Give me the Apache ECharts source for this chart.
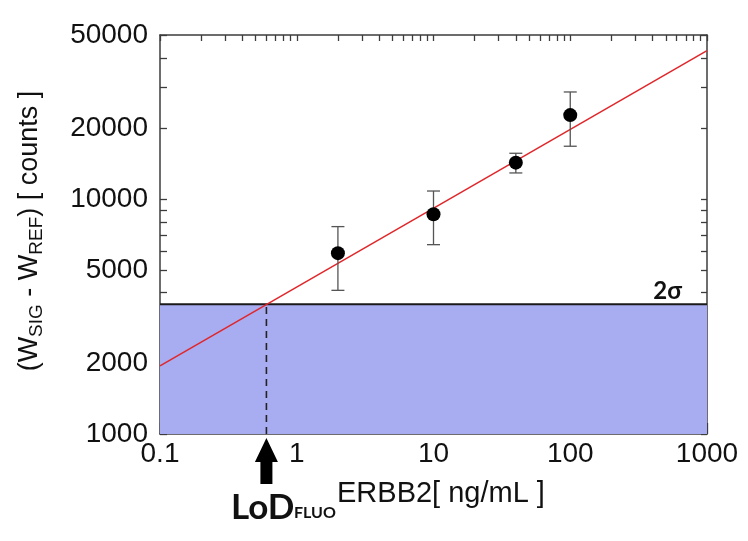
<!DOCTYPE html>
<html><head><meta charset="utf-8">
<script src="https://cdn.jsdelivr.net/npm/echarts@6/dist/echarts.min.js"></script>
<style>html,body{margin:0;padding:0;background:#fff}#c{width:748px;height:541px}</style>
</head><body><div id="c"></div>
<script>
// ---- data ----
const concentrations = [2, 10, 40, 100];           // ERBB2 ng/mL
const signalMeans   = [5890, 8630, 14300, 22800];   // counts
const errLow        = [4090, 6400, 12930, 16800];
const errHigh       = [7640, 10830, 15680, 28600];
const fitX = [0.1, 1000];
const fitY = [1950, 42900];
const sigmaThreshold = 3570;  // 2 sigma level
const lodValue = 0.6;         // LoD (ng/mL)
const xRange = [0.1, 1000];
const yRange = [1000, 50000];
const xLabelValues = [0.1, 1, 10, 100, 1000];
const xMinorTickValues = [0.2,0.3,0.4,0.5,0.6,0.7,0.8,0.9,2,3,4,5,6,7,8,9,20,30,40,50,60,70,80,90,200,300,400,500,600,700,800,900];
const yLabelValues = [1000, 2000, 5000, 10000, 20000, 50000];
const yTickValues = [1000,2000,3000,4000,5000,6000,7000,8000,9000,10000,20000,30000,40000,50000];

const axisColor = '#3c3c3c';
const textColor = '#111';
const FONT = 'Liberation Sans, Arial, sans-serif';

const chart = echarts.init(document.getElementById('c'), null, {renderer: 'canvas'});

function fmt(v){ return String(+(+v).toPrecision(6)); }

const baseX = {type:'log', logBase:10, min:xRange[0], max:xRange[1], splitLine:{show:false}};
const baseY = {type:'log', logBase:10, min:yRange[0], max:yRange[1], splitLine:{show:false}};

const option = {
  animation:false,
  backgroundColor:'#fff',
  grid:{left:160, top:35, width:547, height:399, containLabel:false},
  xAxis:[
    Object.assign({}, baseX, {position:'bottom',
      axisLine:{show:true, lineStyle:{color:axisColor, width:1.5}},
      axisTick:{show:true, inside:true, length:11, customValues:xLabelValues, lineStyle:{color:axisColor, width:1.3}},
      axisLabel:{show:true, customValues:xLabelValues, formatter:fmt, fontSize:28, color:textColor, fontFamily:FONT, margin:6, hideOverlap:false}}),
    Object.assign({}, baseX, {position:'bottom',
      axisLine:{show:false},
      axisTick:{show:true, inside:true, length:7, customValues:xMinorTickValues, lineStyle:{color:axisColor, width:1.3}},
      axisLabel:{show:false}}),
    Object.assign({}, baseX, {position:'top',
      axisLine:{show:true, lineStyle:{color:axisColor, width:1.5}},
      axisTick:{show:true, inside:true, length:6, customValues:xLabelValues.concat(xMinorTickValues), lineStyle:{color:axisColor, width:1.3}},
      axisLabel:{show:false}})
  ],
  yAxis:[
    Object.assign({}, baseY, {position:'left',
      axisLine:{show:true, lineStyle:{color:axisColor, width:1.5}},
      axisTick:{show:true, inside:true, length:7, customValues:yTickValues, lineStyle:{color:axisColor, width:1.3}},
      axisLabel:{show:true, customValues:yLabelValues, formatter:fmt, fontSize:28, color:textColor, fontFamily:FONT, margin:12, hideOverlap:false}}),
    Object.assign({}, baseY, {position:'right',
      axisLine:{show:true, lineStyle:{color:axisColor, width:1.5}},
      axisTick:{show:true, inside:true, length:6, customValues:yTickValues, lineStyle:{color:axisColor, width:1.3}},
      axisLabel:{show:false}})
  ],
  series:[
    { // shaded region below 2 sigma
      type:'line', xAxisIndex:0, yAxisIndex:0, z:1, silent:true, symbol:'none',
      data:[[xRange[0], sigmaThreshold],[xRange[1], sigmaThreshold]],
      lineStyle:{color:'#1a1a1a', width:2},
      areaStyle:{color:'#a8acf0', opacity:1, origin:'start'}
    },
    { // LoD dashed drop line
      type:'line', xAxisIndex:0, yAxisIndex:0, z:3, silent:true, symbol:'none',
      data:[[lodValue, yRange[0]],[lodValue, sigmaThreshold]],
      lineStyle:{color:'#222', width:1.6, type:[7,5]}
    },
    { // fit line
      type:'line', xAxisIndex:0, yAxisIndex:0, z:4, silent:true, symbol:'none',
      data:fitX.map((x,i)=>[x, fitY[i]]),
      lineStyle:{color:'#e0262a', width:1.5}
    },
    { // error bars
      type:'custom', xAxisIndex:0, yAxisIndex:0, z:5, silent:true,
      data:concentrations.map((x,i)=>[x, errLow[i], errHigh[i]]),
      encode:{x:0, y:[1,2]},
      renderItem:function(params, api){
        const x = api.value(0);
        const pLo = api.coord([x, api.value(1)]);
        const pHi = api.coord([x, api.value(2)]);
        const hw = 6.5;
        const st = {stroke:'#555', lineWidth:1.3};
        return {type:'group', children:[
          {type:'line', shape:{x1:pLo[0], y1:pLo[1], x2:pHi[0], y2:pHi[1]}, style:st},
          {type:'line', shape:{x1:pLo[0]-hw, y1:pLo[1], x2:pLo[0]+hw, y2:pLo[1]}, style:st},
          {type:'line', shape:{x1:pHi[0]-hw, y1:pHi[1], x2:pHi[0]+hw, y2:pHi[1]}, style:st}
        ]};
      }
    },
    { // data points
      type:'scatter', xAxisIndex:0, yAxisIndex:0, z:6, silent:true,
      symbol:'circle', symbolSize:14,
      itemStyle:{color:'#000', opacity:1},
      data:concentrations.map((x,i)=>[x, signalMeans[i]])
    }
  ]
};
chart.setOption(option);

// annotations positioned from the chart's scales
const lodPx = chart.convertToPixel({xAxisIndex:0}, lodValue);
const gridBottom = chart.convertToPixel({yAxisIndex:0}, yRange[0]);
const gridRight = chart.convertToPixel({xAxisIndex:0}, xRange[1]);
const sigPx = chart.convertToPixel({yAxisIndex:0}, sigmaThreshold);

chart.setOption({
  graphic:[
    { // arrow pointing to LoD
      type:'polygon', silent:true,
      shape:{points:[
        [lodPx, gridBottom+4],
        [lodPx+11.5, gridBottom+28],
        [lodPx+6, gridBottom+28],
        [lodPx+6, gridBottom+50],
        [lodPx-6, gridBottom+50],
        [lodPx-6, gridBottom+28],
        [lodPx-11.5, gridBottom+28]
      ]},
      style:{fill:'#000'}
    },
    {
      type:'text', silent:true, x:231, y:508,
      style:{text:'LoD', font:'bold 35px Lato, sans-serif', fill:textColor, align:'left', verticalAlign:'middle'}
    },
    {
      type:'text', silent:true, x:294, y:513,
      style:{text:'FLUO', font:'bold 16px Lato, sans-serif', fill:textColor, align:'left', verticalAlign:'middle'}
    },
    {
      type:'text', silent:true, x:337, y:494,
      style:{text:'ERBB2[ ng/mL ]', font:'29px ' + FONT, fill:textColor, align:'left', verticalAlign:'middle'}
    },
    {
      type:'text', silent:true, x:gridRight-25, y:sigPx-13,
      style:{text:'2σ', font:'bold 24px Lato, sans-serif', fill:textColor, align:'right', verticalAlign:'middle'}
    },
    {
      type:'text', silent:true, x:30, y:231, rotation:Math.PI/2,
      style:{
        text:'{m|(W}{s|SIG}{m| - W}{s|REF}{m|) [ counts ]}',
        align:'center', verticalAlign:'middle', fill:textColor,
        rich:{
          m:{fontSize:27, fontFamily:FONT, lineHeight:32, verticalAlign:'middle', fill:textColor},
          s:{fontSize:19, fontFamily:FONT, lineHeight:20, verticalAlign:'bottom', fill:textColor}
        }
      }
    }
  ]
});
</script>
</body></html>
